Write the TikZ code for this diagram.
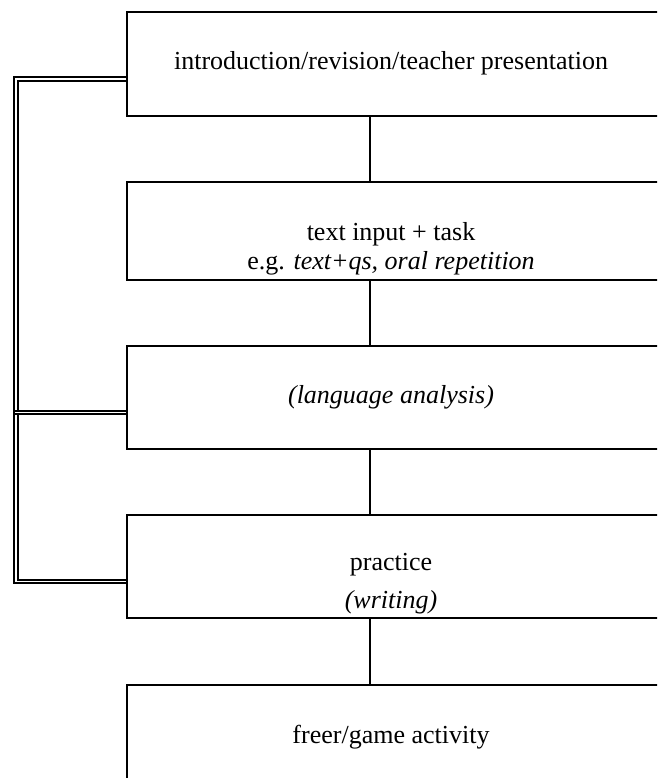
\documentclass[tikz,border=0pt]{standalone}
\usepackage{fontspec}
\setmainfont{Liberation Serif}
\begin{document}
\begin{tikzpicture}[x=1pt,y=-1pt,
  box/.style={draw=black, line width=1.8pt, rectangle, anchor=north west, inner sep=0pt},
  lbl/.style={font=\fontsize{26}{30}\selectfont, anchor=base, inner sep=0pt},
  link/.style={draw=black, line width=1.8pt},
  dbl/.style={draw=black, line width=2pt, double=white, double distance=1.5pt}]
\useasboundingbox (0,0) rectangle (657,778);
\clip (0,0) rectangle (657,778);
% boxes
\node[box, minimum width=532pt, minimum height=104pt] (b1) at (126,11) {};
\node[box, minimum width=532pt, minimum height=98pt]  (b2) at (126,181) {};
\node[box, minimum width=532pt, minimum height=103pt] (b3) at (126,345) {};
\node[box, minimum width=532pt, minimum height=103pt] (b4) at (126,514) {};
\node[box, minimum width=532pt, minimum height=130pt] (b5) at (126,684) {};
% texts
\node[lbl] (t1) at (391,70) {introduction/revision/teacher presentation};
\node[lbl] (t2a) at (391,240) {text input + task};
\node[lbl] (t2b) at (391,269) {e.g. \textit{text+qs, oral repetition}};
\node[lbl] (t3) at (391,403) {\textit{(language analysis)}};
\node[lbl] (t4a) at (391,570) {practice};
\node[lbl] (t4b) at (391,608) {\textit{(writing)}};
\node[lbl] (t5) at (391,743) {freer/game activity};
% vertical connectors
\coordinate (cx) at (370,0);
\draw[link] (b1.south -| cx) -- (b2.north -| cx);
\draw[link] (b2.south -| cx) -- (b3.north -| cx);
\draw[link] (b3.south -| cx) -- (b4.north -| cx);
\draw[link] (b4.south -| cx) -- (b5.north -| cx);
% double feedback lines
\coordinate (j1) at (16,79.2);
\coordinate (j3) at (16,581.7);
\coordinate (j2) at (15.25,412.7);
\draw[dbl] (b1.west |- j1) -- (j1) -- (j3) -- (b4.west |- j3);
\draw[dbl] (j2) -- (b3.west |- j2);
\end{tikzpicture}
\end{document}
